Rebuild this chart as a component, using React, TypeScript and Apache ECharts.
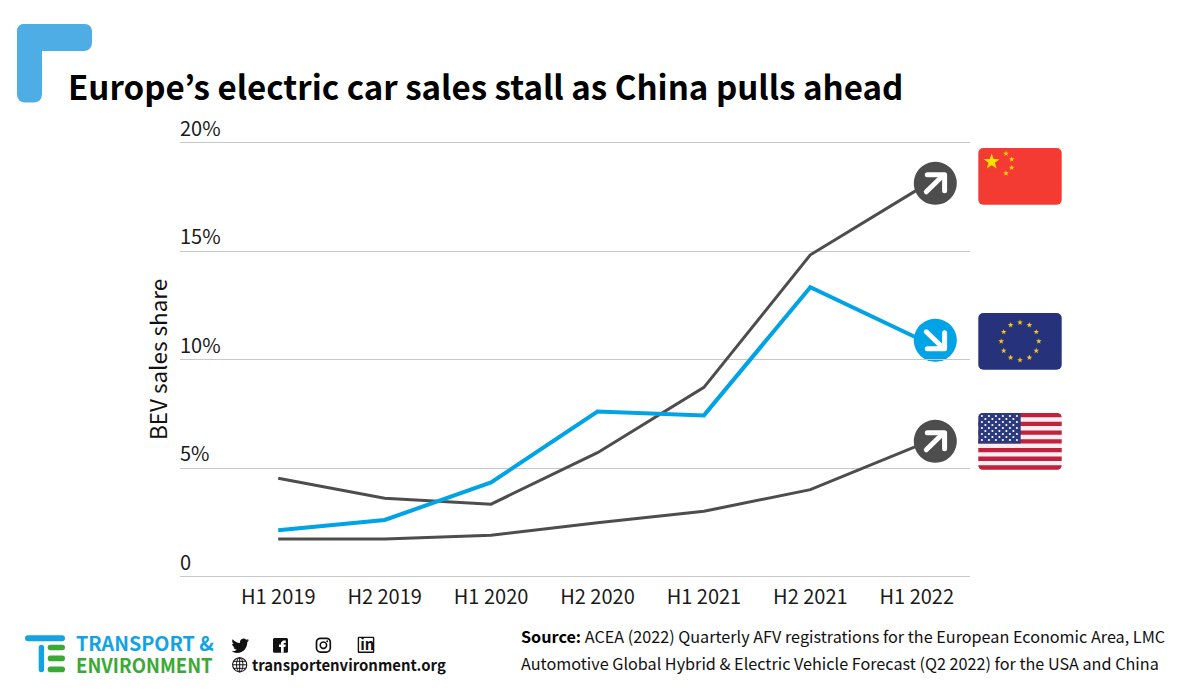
import React, { useEffect, useRef } from "react";
import * as echarts from "echarts";

const FONT = '"Noto Sans CJK KR", "Noto Sans", sans-serif';

const TITLE = "Europe’s electric car sales stall as China pulls ahead";
const Y_NAME = "BEV sales share";
const categories = ["H1 2019", "H2 2019", "H1 2020", "H2 2020", "H1 2021", "H2 2021", "H1 2022"];
const chinaValues = [4.52, 3.6, 3.33, 5.7, 8.71, 14.82, 17.8];
const euValues = [2.13, 2.6, 4.33, 7.6, 7.42, 13.33, 11.0];
const usaValues = [1.72, 1.72, 1.9, 2.47, 3.0, 4.0, 6.0];
const SOURCE_1 = "ACEA (2022) Quarterly AFV registrations for the European Economic Area, LMC";
const SOURCE_2 = "Automotive Global Hybrid & Electric Vehicle Forecast (Q2 2022) for the USA and China";

const GREY = "#4d4d4d";
const BLUE = "#00a3e6";
const TWITTER =
  "M23.953 4.57a10 10 0 0 1-2.825.775 4.958 4.958 0 0 0 2.163-2.723c-.951.555-2.005.959-3.127 1.184a4.92 4.92 0 0 0-8.384 4.482C7.69 8.095 4.067 6.13 1.64 3.162a4.822 4.822 0 0 0-.666 2.475c0 1.71.87 3.213 2.188 4.096a4.904 4.904 0 0 1-2.228-.616v.06a4.923 4.923 0 0 0 3.946 4.827 4.996 4.996 0 0 1-2.212.085 4.936 4.936 0 0 0 4.604 3.417 9.867 9.867 0 0 1-6.102 2.105c-.39 0-.779-.023-1.17-.067a13.995 13.995 0 0 0 7.557 2.209c9.053 0 13.998-7.496 13.998-13.985 0-.21 0-.42-.015-.63A9.935 9.935 0 0 0 24 4.59z";

echarts.graphic.registerShape("twitterIcon", echarts.graphic.extendPath(TWITTER, {}) as any);

function star(cx: number, cy: number, R: number, fill: string) {
  const points: number[][] = [];
  for (let i = 0; i < 10; i++) {
    const r = i % 2 === 0 ? R : R * 0.4;
    const a = -Math.PI / 2 + (i * Math.PI) / 5;
    points.push([cx + r * Math.cos(a), cy + r * Math.sin(a)]);
  }
  return { type: "polygon", silent: true, shape: { points }, style: { fill } };
}

function arrowBadge(cy: number, fill: string, down: boolean) {
  const cx = 935.3;
  const s = down ? -1 : 1;
  const stroke = { stroke: "#fff", lineWidth: 5, lineCap: "round", lineJoin: "round", fill: "none" };
  return [
    { type: "circle", shape: { cx, cy, r: 21.5 }, style: { fill } },
    {
      type: "polyline",
      shape: { points: [[cx - 9, cy + 8.5 * s], [cx + 8, cy - 8 * s]] },
      style: stroke,
    },
    {
      type: "polyline",
      shape: { points: [[cx - 8, cy - 8.5 * s], [cx + 9.3, cy - 8.5 * s], [cx + 9.3, cy + 7.5 * s]] },
      style: stroke,
    },
  ];
}

function chinaFlag() {
  const small = [[1006, 153.7], [1011.7, 159.3], [1011.7, 167.7], [1006, 173.3]];
  return [
    { type: "rect", shape: { x: 978.3, y: 148, width: 83.4, height: 56.7, r: 5 }, style: { fill: "#f33a33" } },
    star(991.7, 161.8, 8.4, "#ffe000"),
    ...small.map(([x, y]) => star(x, y, 2.9, "#ffe000")),
  ];
}

function euFlag() {
  const stars: any[] = [];
  for (let i = 0; i < 12; i++) {
    const a = (i * Math.PI) / 6;
    stars.push(star(1020 + 18.8 * Math.sin(a), 341.3 - 18.8 * Math.cos(a), 3, "#f4c51c"));
  }
  return [
    { type: "rect", shape: { x: 978.3, y: 313, width: 83.4, height: 56.7, r: 5 }, style: { fill: "#26337a" } },
    ...stars,
  ];
}

function usaFlag() {
  const x = 978.3;
  const y = 413;
  const w = 83.4;
  const h = 56.7 / 13;
  const out: any[] = [];
  out.push({ type: "rect", shape: { x, y, width: w, height: 56.7, r: 5 }, style: { fill: "#f6eef0" } });
  for (let i = 0; i < 13; i += 2) {
    const r = i === 0 ? [5, 5, 0, 0] : i === 12 ? [0, 0, 5, 5] : 0;
    out.push({ type: "rect", shape: { x, y: y + i * h, width: w, height: h, r }, style: { fill: "#c0213c" } });
  }
  out.push({ type: "rect", shape: { x, y, width: 42.4, height: 7 * h, r: [5, 0, 0, 0] }, style: { fill: "#2b3a7e" } });
  for (let row = 0; row < 9; row++) {
    const n = row % 2 === 0 ? 6 : 5;
    for (let c = 0; c < n; c++) {
      const px = x + 3.6 + c * 7 + (row % 2 === 0 ? 0 : 3.5);
      const py = y + 3 + row * 3;
      out.push({ type: "circle", shape: { cx: px, cy: py, r: 1.05 }, style: { fill: "#f2f2f8" } });
    }
  }
  return out;
}

function socialIcons() {
  const ink = "#111";
  const outline = { fill: "none", stroke: ink };
  return [
    { type: "twitterIcon", x: 231.5, y: 637, scaleX: 0.73, scaleY: 0.73, style: { fill: ink } },
    { type: "rect", shape: { x: 273, y: 638, width: 15, height: 14.7, r: 1.5 }, style: { fill: ink } },
    {
      type: "polygon",
      shape: {
        points: [[281, 652.7], [281, 647], [279, 647], [279, 644.6], [281, 644.6], [281, 642.6], [283, 640.6], [285.8, 640.6], [285.8, 643], [284.2, 643], [283.7, 643.6], [283.7, 644.6], [285.8, 644.6], [285.4, 647], [283.7, 647], [283.7, 652.7]],
      },
      style: { fill: "#fff" },
    },
    { type: "rect", shape: { x: 316.5, y: 638.3, width: 13.8, height: 13.8, r: 4 }, style: { ...outline, lineWidth: 1.7 } },
    { type: "circle", shape: { cx: 323.4, cy: 645.2, r: 3.2 }, style: { ...outline, lineWidth: 1.6 } },
    { type: "circle", shape: { cx: 327.2, cy: 641.2, r: 0.9 }, style: { fill: ink } },
    { type: "rect", shape: { x: 358.4, y: 637.4, width: 15.2, height: 14.8, r: 0.5 }, style: { ...outline, lineWidth: 1.4 } },
    { type: "text", x: 360.3, y: 635.5, style: { text: "in", font: `700 15px ${FONT}`, fill: ink } },
    { type: "circle", shape: { cx: 239.7, cy: 664.8, r: 7 }, style: { ...outline, lineWidth: 1.1 } },
    { type: "ellipse", shape: { cx: 239.7, cy: 664.8, rx: 3.2, ry: 7 }, style: { ...outline, lineWidth: 1 } },
    { type: "line", shape: { x1: 232.7, y1: 664.8, x2: 246.7, y2: 664.8 }, style: { stroke: ink, lineWidth: 1 } },
    { type: "line", shape: { x1: 233.6, y1: 661.3, x2: 245.8, y2: 661.3 }, style: { stroke: ink, lineWidth: 1 } },
    { type: "line", shape: { x1: 233.6, y1: 668.3, x2: 245.8, y2: 668.3 }, style: { stroke: ink, lineWidth: 1 } },
    { type: "line", shape: { x1: 239.7, y1: 657.8, x2: 239.7, y2: 671.8 }, style: { stroke: ink, lineWidth: 1 } },
  ];
}

function buildOption() {
  const line = (name: string, data: number[], color: string, width: number) => ({
    name,
    type: "line",
    xAxisIndex: 0,
    yAxisIndex: 0,
    data,
    symbol: "none",
    smooth: false,
    lineStyle: { color, width, cap: "butt", join: "miter" },
  });
  const teBlue = "#12a3e3";
  const teGreen = "#3ba935";
  return {
    animation: false,
    backgroundColor: "#fff",
    textStyle: { fontFamily: FONT },
    title: {
      text: TITLE,
      left: 68,
      top: 69,
      padding: 0,
      textStyle: { fontFamily: FONT, fontSize: 33.1, fontWeight: 700, color: "#000" },
    },
    grid: [
      { left: 225, top: 142.4, width: 745, height: 434 },
      { left: 180, top: 142.4, width: 790, height: 434 },
    ],
    xAxis: [
      {
        type: "category",
        gridIndex: 0,
        data: categories,
        axisLine: { show: false },
        axisTick: { show: false },
        axisLabel: { color: "#1a1a1a", fontSize: 20, fontFamily: FONT, margin: 9, interval: 0 },
      },
      { type: "value", gridIndex: 1, min: 0, max: 1, show: false },
    ],
    yAxis: [
      { type: "value", gridIndex: 0, min: 0, max: 20, interval: 5, show: false },
      {
        type: "value",
        gridIndex: 1,
        min: 0,
        max: 20,
        interval: 5,
        name: Y_NAME,
        nameLocation: "middle",
        nameRotate: 90,
        nameGap: 12,
        nameTextStyle: { color: "#111", fontSize: 22.5, fontFamily: FONT },
        axisLine: { show: false },
        axisTick: { show: false },
        splitLine: { show: true, lineStyle: { color: "#c8c8c8", width: 1 } },
        axisLabel: {
          inside: true,
          margin: 0,
          align: "left",
          verticalAlign: "bottom",
          padding: [0, 0, 5, 0],
          color: "#1a1a1a",
          fontSize: 20,
          fontFamily: FONT,
          formatter: (v: number) => (v === 0 ? "0" : `${v}%`),
        },
      },
    ],
    series: [
      line("China", chinaValues, GREY, 3),
      line("USA", usaValues, GREY, 3),
      line("Europe", euValues, BLUE, 4),
    ],
    graphic: [
      {
        type: "group",
        silent: true,
        children: [
          { type: "rect", shape: { x: 17, y: 24, width: 75, height: 27, r: [7, 7, 8, 0] }, style: { fill: "#4fade5" } },
          { type: "rect", shape: { x: 17, y: 24, width: 25, height: 78.5, r: [7, 0, 8, 8] }, style: { fill: "#4fade5" } },
          ...arrowBadge(183.3, GREY, false),
          ...arrowBadge(340.3, BLUE, true),
          ...arrowBadge(441.3, GREY, false),
          ...chinaFlag(),
          ...euFlag(),
          ...usaFlag(),
          { type: "rect", shape: { x: 25, y: 635.3, width: 40, height: 6, r: 3 }, style: { fill: teBlue } },
          { type: "rect", shape: { x: 38.7, y: 644.7, width: 5.4, height: 27.6, r: 2.7 }, style: { fill: teBlue } },
          { type: "rect", shape: { x: 47.7, y: 644.7, width: 17.3, height: 5.6, r: 2.8 }, style: { fill: teGreen } },
          { type: "rect", shape: { x: 47.7, y: 655.6, width: 17.3, height: 5.6, r: 2.8 }, style: { fill: teGreen } },
          { type: "rect", shape: { x: 47.7, y: 666.6, width: 17.3, height: 5.6, r: 2.8 }, style: { fill: teGreen } },
          { type: "text", x: 76, y: 632.5, style: { text: "TRANSPORT &", font: `700 19.7px ${FONT}`, fill: teBlue } },
          { type: "text", x: 76, y: 654.5, scaleX: 0.93, style: { text: "ENVIRONMENT", font: `700 20px ${FONT}`, fill: teGreen } },
          ...socialIcons(),
          { type: "text", x: 252, y: 657, style: { text: "transportenvironment.org", font: `700 14.9px ${FONT}`, fill: "#111" } },
          {
            type: "text",
            x: 521,
            y: 628,
            style: {
              text: `{b|Source:} ${SOURCE_1}`,
              font: `400 16.2px ${FONT}`,
              fill: "#111",
              rich: { b: { font: `700 16.2px ${FONT}`, fill: "#000" } },
            },
          },
          { type: "text", x: 521, y: 655, style: { text: SOURCE_2, font: `400 16.2px ${FONT}`, fill: "#111" } },
        ],
      },
    ],
  };
}

export default function App() {
  const ref = useRef<HTMLDivElement>(null);
  useEffect(() => {
    const chart = echarts.init(ref.current!, undefined, { renderer: "svg" });
    chart.setOption(buildOption() as any);
    return () => chart.dispose();
  }, []);
  return <div ref={ref} style={{ position: "fixed", left: 0, top: 0, width: 1200, height: 700 }} />;
}
